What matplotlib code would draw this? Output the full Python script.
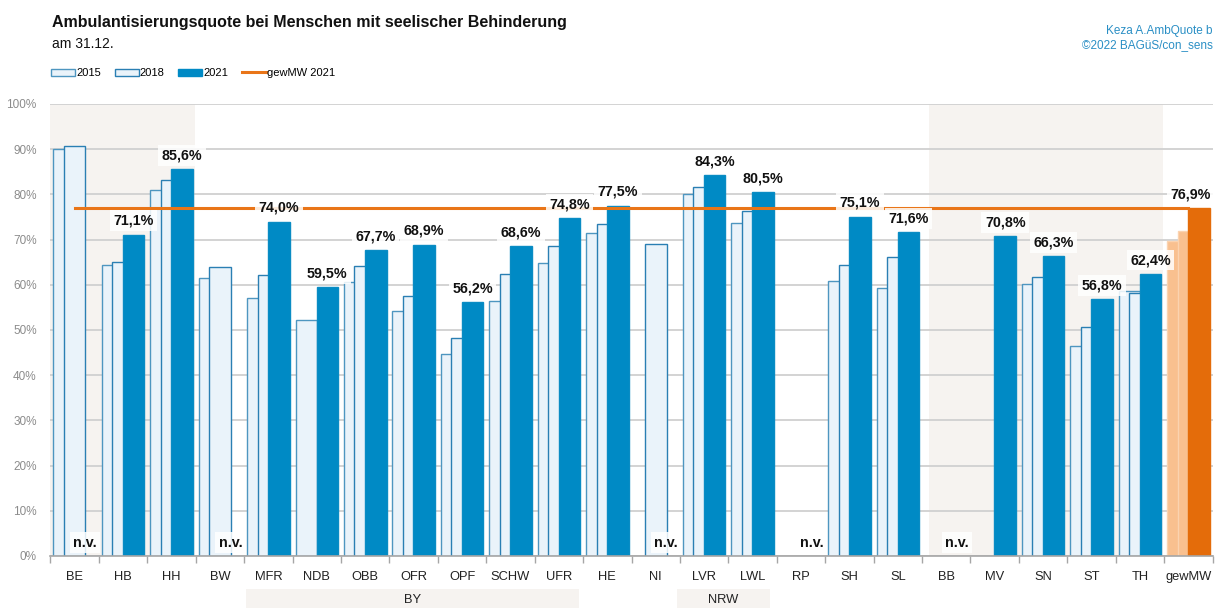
import numpy as np
import matplotlib
matplotlib.use("Agg")
import matplotlib.pyplot as plt
from matplotlib import font_manager
from matplotlib.patches import Rectangle
from matplotlib.lines import Line2D

nan = np.nan
cats = ['BE', 'HB', 'HH', 'BW', 'MFR', 'NDB', 'OBB', 'OFR', 'OPF', 'SCHW', 'UFR', 'HE',
        'NI', 'LVR', 'LWL', 'RP', 'SH', 'SL', 'BB', 'MV', 'SN', 'ST', 'TH', 'gewMW']
v2015 = [90.0, 64.3, 81.0, 61.4, 57.1, 52.2, 60.7, 54.2, 44.8, 56.5, 64.9, 71.4,
         nan, 80.0, 73.7, nan, 60.9, 59.4, nan, nan, 60.2, 46.5, 58.7, 69.7]
v2018 = [90.6, 65.0, 83.1, 64.0, 62.2, nan, 64.2, 57.5, 48.2, 62.4, 68.6, 73.4,
         69.0, 81.6, 76.3, nan, 64.3, 66.2, nan, nan, 61.7, 50.7, 58.1, 71.8]
v2021 = [nan, 71.1, 85.6, nan, 74.0, 59.5, 67.7, 68.9, 56.2, 68.6, 74.8, 77.5,
         nan, 84.3, 80.5, nan, 75.1, 71.6, nan, 70.8, 66.3, 56.8, 62.4, 76.9]
nv_cats = ['BE', 'BW', 'NI', 'RP', 'BB']
mean2021 = 76.9
yticks = [0, 10, 20, 30, 40, 50, 60, 70, 80, 90, 100]
groups = [('BY', 3.54, 10.42), ('NRW', 12.44, 14.36)]
shades = [(-0.5, 2.49), (17.64, 22.48)]

avail = {f.name for f in font_manager.fontManager.ttflist}
narrow = 'Liberation Sans Narrow' if 'Liberation Sans Narrow' in avail else 'Liberation Sans'
plt.rcParams['font.family'] = [narrow, 'DejaVu Sans']

W, H = 1215, 608
fig = plt.figure(figsize=(W / 100, H / 100), dpi=100)
ax = fig.add_axes([50.5 / W, 1 - 556 / H, (1212.6 - 50.5) / W, (556 - 104) / H])

n = len(cats)
x = np.arange(n)
off = 0.217
bw = 0.445

light = '#EAF3FA'
dark = '#008AC5'
c15 = [light] * (n - 1) + ['#F9C08F']
c18 = [light] * (n - 1) + ['#F9C08F']
c21 = [dark] * (n - 1) + ['#E46C0A']
e15 = ['#4E96C0'] * (n - 1) + ['#FBD3B0']
e18 = ['#2A7FB3'] * (n - 1) + ['#FBD3B0']
e21 = ['#0A8CC4'] * (n - 1) + ['#E46C0A']

for a, b in shades:
    ax.axvspan(a, b, color='#F6F3F0', zorder=0, lw=0)

ax.bar(x - off, v2015, bw, color=c15, edgecolor=e15, linewidth=1.0, zorder=2)
ax.bar(x, v2018, bw, color=c18, edgecolor=e18, linewidth=1.0, zorder=3)
ax.bar(x + off, v2021, bw, color=c21, edgecolor=e21, linewidth=1.0, zorder=4)

ax.plot([0, n - 1], [mean2021, mean2021], color='#E97518', lw=2.2, zorder=5)

lab_fs = 10.3
for i, v in enumerate(v2021):
    if np.isnan(v):
        if cats[i] in nv_cats:
            ax.text(i + off, 2.9, 'n.v.', ha='center', va='center', fontsize=lab_fs,
                    fontweight='bold', color='#111111', zorder=7,
                    bbox=dict(facecolor='white', alpha=0.85, edgecolor='none', pad=2.5))
        continue
    dx = -6 if i == n - 1 else 0
    ax.annotate(f"{v:.1f}%".replace('.', ','), (i + off, v), xytext=(dx, 10),
                textcoords='offset points', ha='center', va='center', fontsize=lab_fs,
                fontweight='bold', color='#111111', zorder=7,
                bbox=dict(facecolor='white', alpha=0.85, edgecolor='none', pad=2.5))

ax.set_xlim(-0.5, n - 0.5)
ax.set_ylim(0, 100)
ax.set_yticks(yticks)
ax.set_yticklabels([f"{t}%" for t in yticks], color='#8C8C8C', fontsize=8.5)
ax.yaxis.grid(True, color='#D0D0D0', lw=1.3, zorder=1)
ax.set_axisbelow(True)
ax.tick_params(axis='y', length=0, pad=10)
ax.set_xticks(x)
ax.set_xticklabels(cats, fontsize=9.3, color='#222222')
ax.set_xticks(np.arange(-0.5, n, 1), minor=True)
ax.tick_params(axis='x', which='major', length=0, pad=11)
ax.tick_params(axis='x', which='minor', length=5, color='#A6A6A6', width=1)
for s in ['top', 'right', 'left']:
    ax.spines[s].set_visible(False)
ax.spines['bottom'].set_color('#A6A6A6')
ax.spines['bottom'].set_linewidth(1.2)
ax.spines['bottom'].set_zorder(6)

for name, a, b in groups:
    ax.add_patch(Rectangle((a, -0.115), b - a, 0.042, transform=ax.get_xaxis_transform(),
                           facecolor='#F6F3F0', edgecolor='none', clip_on=False, zorder=0))
    ax.text((a + b) / 2, -0.097, name, transform=ax.get_xaxis_transform(), ha='center',
            va='center', fontsize=9.3, color='#222222')

fig.text(52 / W, 1 - 22 / H, 'Ambulantisierungsquote bei Menschen mit seelischer Behinderung',
         fontsize=11.5, fontweight='bold', va='center', ha='left',
         family=['Liberation Sans', 'DejaVu Sans'], color='#111111')
fig.text(52 / W, 1 - 44 / H, 'am 31.12.', fontsize=10, va='center', ha='left',
         family=['Liberation Sans', 'DejaVu Sans'], color='#111111')
fig.text(1213 / W, 1 - 31 / H, 'Keza A.AmbQuote b', fontsize=8.5, va='center', ha='right', color='#2A8FC5')
fig.text(1213 / W, 1 - 45 / H, '©2022 BAGüS/con_sens', fontsize=8.5, va='center', ha='right', color='#2A8FC5')

handles = [Rectangle((0, 0), 1, 1, facecolor=light, edgecolor='#4E96C0', lw=1.0),
           Rectangle((0, 0), 1, 1, facecolor=light, edgecolor='#2A7FB3', lw=1.0),
           Rectangle((0, 0), 1, 1, facecolor=dark, edgecolor=dark, lw=1.0),
           Line2D([0], [0], color='#E97518', lw=2.2)]
fig.legend(handles, ['2015', '2018', '2021', 'gewMW 2021'], loc='center left',
           bbox_to_anchor=(51 / W, 1 - 73 / H), ncol=4, frameon=False, fontsize=8,
           handlelength=2.15, handleheight=0.6, handletextpad=0.1, columnspacing=1.25,
           borderpad=0, borderaxespad=0)

fig.savefig('out.png', dpi=100)
